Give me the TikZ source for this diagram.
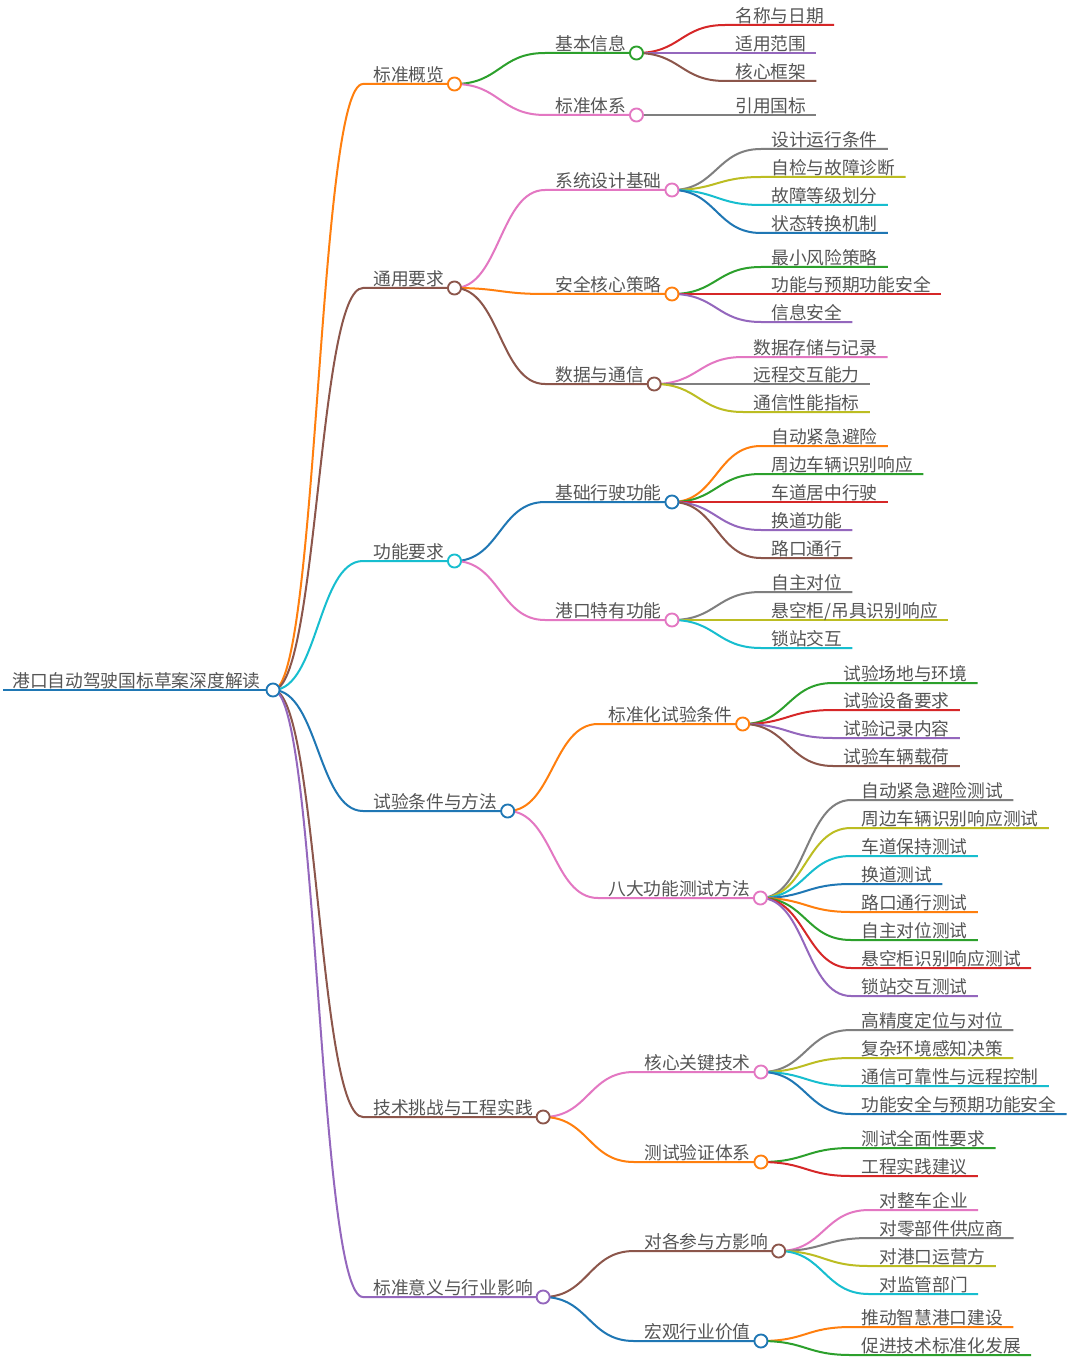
\documentclass[tikz,border=0pt]{standalone}
\usepackage{fontspec}
\setmainfont{Noto Sans CJK SC}
\usetikzlibrary{calc}
\pgfdeclarelayer{bg}
\pgfsetlayers{bg,main}
\definecolor{cBlue}{HTML}{1F77B4}
\definecolor{cOrange}{HTML}{FF7F0E}
\definecolor{cGreen}{HTML}{2CA02C}
\definecolor{cRed}{HTML}{D62728}
\definecolor{cPurple}{HTML}{9467BD}
\definecolor{cBrown}{HTML}{8C564B}
\definecolor{cPink}{HTML}{E377C2}
\definecolor{cGray}{HTML}{7F7F7F}
\definecolor{cOlive}{HTML}{BCBD22}
\definecolor{cCyan}{HTML}{17BECF}
\definecolor{txt}{HTML}{555555}
\tikzset{
  lbl/.style={anchor=base west, inner sep=0pt, text=txt, font=\fontsize{13.3pt}{16pt}\selectfont},
  edge/.style={line width=1.5pt, draw=#1},
  dot/.style={circle, draw=#1, fill=white, line width=1.4pt, inner sep=0pt, minimum size=9.8pt},
  branch/.style={to path={let \p1=(\tikztostart),\p2=(\tikztotarget) in
     .. controls ({(\x1+\x2)/2},\y1) and ({(\x1+\x2)/2},\y2) .. (\tikztotarget)}}
}
\newcommand\mmleaf[6]{%
  \coordinate (#1-s) at ({#4-10},#5);
  \node[lbl] (#1) at (#4,{#5-2.5}) {#6};
  \path (#1-s -| #1.east) ++(7.5pt,0) coordinate (#1-c);
  \begin{pgfonlayer}{bg}
    \draw[edge=#3] (#2) to[branch] (#1-s) -- (#1-c);
  \end{pgfonlayer}}
\newcommand\mmbranch[6]{\mmleaf{#1}{#2}{#3}{#4}{#5}{#6}\node[dot=#3] (#1-o) at (#1-c) {};}
\begin{document}
\begin{tikzpicture}[x=0.75pt,y=-0.75pt]
\begin{pgfonlayer}{bg}\fill[white] (0,0) rectangle (1080,1369);\end{pgfonlayer}
\useasboundingbox (0,0) rectangle (1080,1369);
% root
\coordinate (root-s) at (3,690);
\coordinate (root-c) at (273,690);
\node[lbl] (root) at (12,687.5) {港口自动驾驶国标草案深度解读};
\begin{pgfonlayer}{bg}\draw[edge=cBlue] (root-s) -- (root-c);\end{pgfonlayer}
\node[dot=cBlue] (root-o) at (root-c) {};
% level 1
\mmbranch{a}{root-c}{cOrange}{373}{84}{标准概览}
\mmbranch{b}{root-c}{cBrown}{373}{288}{通用要求}
\mmbranch{c}{root-c}{cCyan}{373}{561}{功能要求}
\mmbranch{d}{root-c}{cBlue}{373}{811}{试验条件与方法}
\mmbranch{e}{root-c}{cBrown}{373}{1117}{技术挑战与工程实践}
\mmbranch{f}{root-c}{cPurple}{373}{1297}{标准意义与行业影响}
% level 2
\mmbranch{a1}{a-c}{cGreen}{555}{53}{基本信息}
\mmbranch{a2}{a-c}{cPink}{555}{115}{标准体系}
\mmbranch{b1}{b-c}{cPink}{555}{190}{系统设计基础}
\mmbranch{b2}{b-c}{cOrange}{555}{294}{安全核心策略}
\mmbranch{b3}{b-c}{cBrown}{555}{384}{数据与通信}
\mmbranch{c1}{c-c}{cBlue}{555}{502}{基础行驶功能}
\mmbranch{c2}{c-c}{cPink}{555}{620}{港口特有功能}
\mmbranch{d1}{d-c}{cOrange}{608}{724}{标准化试验条件}
\mmbranch{d2}{d-c}{cPink}{608}{898}{八大功能测试方法}
\mmbranch{e1}{e-c}{cPink}{644}{1072}{核心关键技术}
\mmbranch{e2}{e-c}{cOrange}{644}{1162}{测试验证体系}
\mmbranch{f1}{f-c}{cBrown}{644}{1251}{对各参与方影响}
\mmbranch{f2}{f-c}{cBlue}{644}{1341}{宏观行业价值}
% level 3
\mmleaf{a11}{a1-c}{cRed}{735}{25}{名称与日期}
\mmleaf{a12}{a1-c}{cPurple}{735}{53}{适用范围}
\mmleaf{a13}{a1-c}{cBrown}{735}{81}{核心框架}
\mmleaf{a21}{a2-c}{cGray}{735}{115}{引用国标}
\mmleaf{b11}{b1-c}{cGray}{771}{149}{设计运行条件}
\mmleaf{b12}{b1-c}{cOlive}{771}{177}{自检与故障诊断}
\mmleaf{b13}{b1-c}{cCyan}{771}{205}{故障等级划分}
\mmleaf{b14}{b1-c}{cBlue}{771}{233}{状态转换机制}
\mmleaf{b21}{b2-c}{cGreen}{771}{267}{最小风险策略}
\mmleaf{b22}{b2-c}{cRed}{771}{294}{功能与预期功能安全}
\mmleaf{b23}{b2-c}{cPurple}{771}{322}{信息安全}
\mmleaf{b31}{b3-c}{cPink}{753}{357}{数据存储与记录}
\mmleaf{b32}{b3-c}{cGray}{753}{384}{远程交互能力}
\mmleaf{b33}{b3-c}{cOlive}{753}{412}{通信性能指标}
\mmleaf{c11}{c1-c}{cOrange}{771}{446}{自动紧急避险}
\mmleaf{c12}{c1-c}{cGreen}{771}{474}{周边车辆识别响应}
\mmleaf{c13}{c1-c}{cRed}{771}{502}{车道居中行驶}
\mmleaf{c14}{c1-c}{cPurple}{771}{530}{换道功能}
\mmleaf{c15}{c1-c}{cBrown}{771}{558}{路口通行}
\mmleaf{c21}{c2-c}{cGray}{771}{592}{自主对位}
\mmleaf{c22}{c2-c}{cOlive}{771}{620}{悬空柜/吊具识别响应}
\mmleaf{c23}{c2-c}{cCyan}{771}{648}{锁站交互}
\mmleaf{d11}{d1-c}{cGreen}{843}{683}{试验场地与环境}
\mmleaf{d12}{d1-c}{cRed}{843}{710}{试验设备要求}
\mmleaf{d13}{d1-c}{cPurple}{843}{738}{试验记录内容}
\mmleaf{d14}{d1-c}{cBrown}{843}{766}{试验车辆载荷}
\mmleaf{d21}{d2-c}{cGray}{861}{800}{自动紧急避险测试}
\mmleaf{d22}{d2-c}{cOlive}{861}{828}{周边车辆识别响应测试}
\mmleaf{d23}{d2-c}{cCyan}{861}{856}{车道保持测试}
\mmleaf{d24}{d2-c}{cBlue}{861}{884}{换道测试}
\mmleaf{d25}{d2-c}{cOrange}{861}{912}{路口通行测试}
\mmleaf{d26}{d2-c}{cGreen}{861}{940}{自主对位测试}
\mmleaf{d27}{d2-c}{cRed}{861}{968}{悬空柜识别响应测试}
\mmleaf{d28}{d2-c}{cPurple}{861}{996}{锁站交互测试}
\mmleaf{e11}{e1-c}{cGray}{861}{1030}{高精度定位与对位}
\mmleaf{e12}{e1-c}{cOlive}{861}{1058}{复杂环境感知决策}
\mmleaf{e13}{e1-c}{cCyan}{861}{1086}{通信可靠性与远程控制}
\mmleaf{e14}{e1-c}{cBlue}{861}{1114}{功能安全与预期功能安全}
\mmleaf{e21}{e2-c}{cGreen}{861}{1148}{测试全面性要求}
\mmleaf{e22}{e2-c}{cRed}{861}{1176}{工程实践建议}
\mmleaf{f11}{f1-c}{cPink}{879}{1210}{对整车企业}
\mmleaf{f12}{f1-c}{cGray}{879}{1238}{对零部件供应商}
\mmleaf{f13}{f1-c}{cOlive}{879}{1266}{对港口运营方}
\mmleaf{f14}{f1-c}{cCyan}{879}{1294}{对监管部门}
\mmleaf{f21}{f2-c}{cOrange}{861}{1327}{推动智慧港口建设}
\mmleaf{f22}{f2-c}{cGreen}{861}{1355}{促进技术标准化发展}
\end{tikzpicture}
\end{document}
